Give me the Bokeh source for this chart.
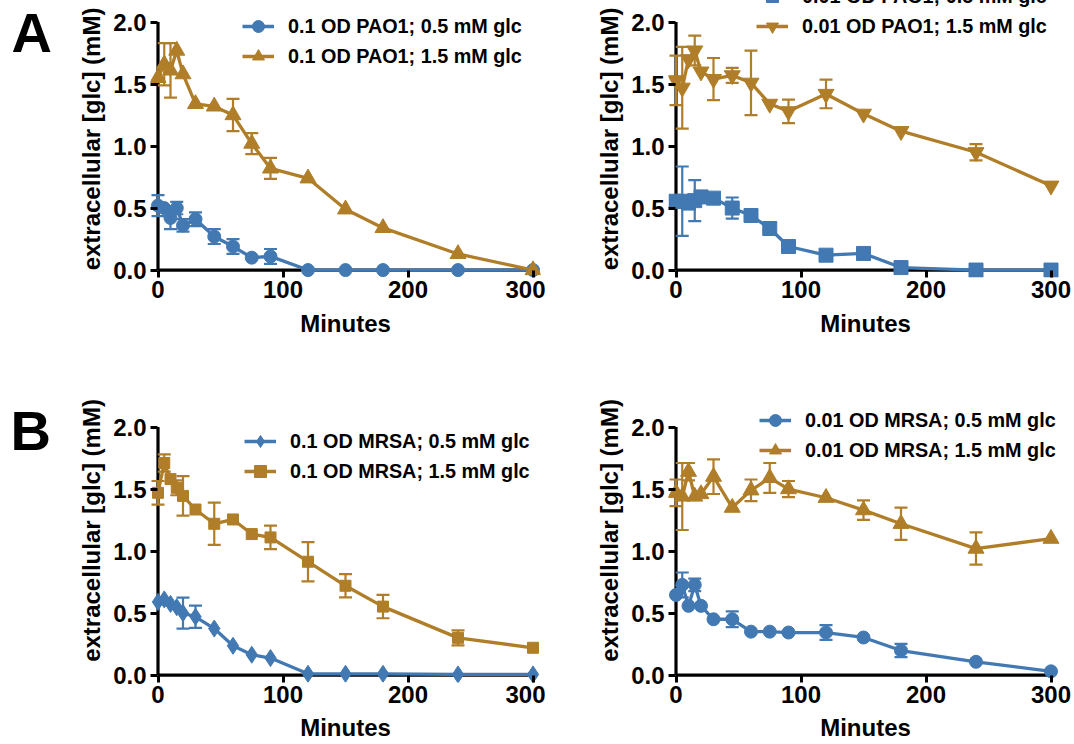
import numpy as np
from bokeh.plotting import figure
from bokeh.models import Range1d, FixedTicker, PrintfTickFormatter, Legend, LegendItem, Label
from bokeh.layouts import column, row
from bokeh.embed import file_html
from bokeh.resources import INLINE

FONT = "Liberation Sans"
BLUE = "#4279B2"
GOLD = "#B07E28"

minutes = [0, 5, 10, 15, 20, 30, 45, 60, 75, 90, 120, 150, 180, 240, 300]
x_ticks = [0, 100, 200, 300]
y_ticks = [0.0, 0.5, 1.0, 1.5, 2.0]
x_title = "Minutes"
y_title = "extracellular [glc] (mM)"
panel_letters = ["A", "B"]

# Panel A, left: 0.1 OD PAO1
pao1_01_low = [0.52, 0.50, 0.42, 0.50, 0.36, 0.41, 0.27, 0.19, 0.10, 0.11, 0.0, 0.0, 0.0, 0.0, 0.0]
pao1_01_low_err = [0.085, 0.0, 0.09, 0.05, 0.05, 0.055, 0.06, 0.06, 0.0, 0.06, 0, 0, 0, 0, 0]
pao1_01_high = [1.55, 1.66, 1.61, 1.77, 1.58, 1.34, 1.32, 1.25, 1.02, 0.82, 0.74, 0.49, 0.34, 0.13, 0.0]
pao1_01_high_err = [0.0, 0.17, 0.22, 0.0, 0.0, 0.0, 0.0, 0.13, 0.085, 0.085, 0, 0, 0, 0, 0]

# Panel A, right: 0.01 OD PAO1
pao1_001_low = [0.555, 0.555, 0.54, 0.56, 0.59, 0.58, 0.50, 0.44, 0.335, 0.19, 0.12, 0.134, 0.02, 0.0, 0.0]
pao1_001_low_err = [0.0, 0.28, 0.0, 0.165, 0.0, 0.0, 0.085, 0.04, 0.05, 0.0, 0, 0, 0, 0, 0]
pao1_001_high = [1.53, 1.47, 1.70, 1.77, 1.60, 1.54, 1.57, 1.51, 1.34, 1.28, 1.42, 1.26, 1.12, 0.95, 0.68]
pao1_001_high_err = [0.2, 0.33, 0.0, 0.12, 0.0, 0.17, 0.06, 0.26, 0.0, 0.095, 0.115, 0, 0, 0.065, 0]

# Panel B, left: 0.1 OD MRSA
mrsa_01_low = [0.59, 0.61, 0.574, 0.547, 0.50, 0.47, 0.375, 0.236, 0.164, 0.137, 0.01, 0.01, 0.01, 0.005, 0.005]
mrsa_01_low_err = [0, 0, 0, 0, 0.125, 0.09, 0, 0, 0, 0, 0, 0, 0, 0, 0]
mrsa_01_high = [1.47, 1.71, 1.58, 1.51, 1.445, 1.335, 1.22, 1.255, 1.137, 1.11, 0.914, 0.72, 0.552, 0.30, 0.22]
mrsa_01_high_err = [0.095, 0.07, 0, 0.06, 0.16, 0, 0.17, 0, 0, 0.095, 0.158, 0.094, 0.094, 0.06, 0]

# Panel B, right: 0.01 OD MRSA
mrsa_001_low = [0.646, 0.727, 0.558, 0.727, 0.558, 0.45, 0.45, 0.35, 0.35, 0.343, 0.343, 0.303, 0.198, 0.107, 0.03]
mrsa_001_low_err = [0, 0.1, 0, 0.05, 0, 0, 0.064, 0, 0, 0, 0.06, 0, 0.054, 0, 0]
mrsa_001_high = [1.47, 1.44, 1.64, 1.44, 1.46, 1.60, 1.35, 1.49, 1.59, 1.50, 1.43, 1.33, 1.22, 1.02, 1.10]
mrsa_001_high_err = [0.107, 0.27, 0.07, 0, 0, 0.14, 0, 0.087, 0.12, 0.065, 0, 0.078, 0.13, 0.13, 0]

PX_PER_UNIT_X = 1.25
PX_PER_UNIT_Y = 124.0
X_START = -6
Y_START = -0.06


def make_panel(width, height, mb, series, legend_xy, label_standoff):
    left, right, top, bottom = mb
    frame_h = height - top - bottom
    frame_w = width - left - right
    p = figure(width=width, height=height, output_backend="svg", toolbar_location=None,
               x_range=Range1d(X_START, X_START + frame_w / PX_PER_UNIT_X),
               y_range=Range1d(Y_START, Y_START + frame_h / PX_PER_UNIT_Y),
               min_border_left=left, min_border_right=right,
               min_border_top=top, min_border_bottom=bottom)
    p.outline_line_color = None
    p.xgrid.grid_line_color = None
    p.ygrid.grid_line_color = None
    p.background_fill_color = "white"
    p.border_fill_color = "white"

    for ax in (p.xaxis[0], p.yaxis[0]):
        ax.axis_line_color = None
        ax.major_tick_in = 7
        ax.major_tick_out = 0
        ax.major_tick_line_width = 3
        ax.major_tick_line_color = "black"
        ax.minor_tick_line_color = None
        ax.major_label_text_font = FONT
        ax.major_label_text_font_style = "bold"
        ax.major_label_text_font_size = "24px"
        ax.major_label_text_color = "black"
        ax.axis_label_text_font = FONT
        ax.axis_label_text_font_style = "bold"
        ax.axis_label_text_font_size = "24px"
        ax.axis_label_text_color = "black"
    p.xaxis.ticker = FixedTicker(ticks=x_ticks)
    p.yaxis.ticker = FixedTicker(ticks=y_ticks)
    p.yaxis.formatter = PrintfTickFormatter(format="%.1f")
    p.xaxis.axis_label = x_title
    p.yaxis.axis_label = y_title
    p.xaxis.major_label_standoff = 3
    p.yaxis.major_label_standoff = 4
    p.xaxis.axis_label_standoff = label_standoff
    p.yaxis.axis_label_standoff = 5

    # axis lines through the data origin
    p.segment(x0=[x_ticks[0], x_ticks[0]], y0=[y_ticks[0], y_ticks[0]],
              x1=[x_ticks[-1], x_ticks[0]], y1=[y_ticks[0], y_ticks[-1]],
              line_color="black", line_width=3.2)

    items = []
    for s in series:
        t = np.array(minutes, dtype=float)
        y = np.array(s["y"], dtype=float)
        e = np.array(s["err"], dtype=float)
        m = e > 0
        if m.any():
            p.segment(x0=t[m], y0=y[m] - e[m], x1=t[m], y1=y[m] + e[m],
                      line_color=s["color"], line_width=2.2)
            p.scatter(x=np.concatenate([t[m], t[m]]),
                      y=np.concatenate([y[m] - e[m], y[m] + e[m]]),
                      marker="dash", size=13, line_color=s["color"], line_width=2.2)
    for s in series:
        rl = p.line(minutes, s["y"], line_color=s["color"], line_width=3.3)
        rm = p.scatter(minutes, s["y"], marker=s["marker"], size=s["size"],
                       fill_color=s["color"], line_color=s["color"], line_width=1)
        items.append(LegendItem(label=s["label"], renderers=[rl, rm]))

    legend = Legend(items=items, location=legend_xy, orientation="vertical",
                    glyph_width=32, glyph_height=30, spacing=-1, label_standoff=14,
                    padding=0, margin=0, border_line_color=None, background_fill_alpha=0,
                    label_text_font=FONT, label_text_font_style="bold",
                    label_text_font_size="19.8px", label_text_color="black")
    p.add_layout(legend)
    return p


def make_letter(height, text, lx, ly):
    f = figure(width=62, height=height, output_backend="svg", toolbar_location=None,
               x_axis_location=None, y_axis_location=None,
               min_border_left=0, min_border_right=0, min_border_top=0, min_border_bottom=0)
    f.outline_line_color = None
    f.xgrid.grid_line_color = None
    f.ygrid.grid_line_color = None
    f.add_layout(Label(x=lx, y=ly, x_units="screen", y_units="screen", text=text,
                       text_font=FONT, text_font_style="bold", text_font_size="56px",
                       text_color="black", text_align="left", text_baseline="alphabetic"))
    return f


TOP_H, BOT_H = 378, 366

fA = make_letter(TOP_H, panel_letters[0], 11, TOP_H - 52 + 20)
fB = make_letter(BOT_H, panel_letters[1], 10, BOT_H - 72 + 20)

pA1 = make_panel(483, TOP_H, (88, 5, 0, 101), [
    dict(label="0.1 OD PAO1; 0.5 mM glc", y=pao1_01_low, err=pao1_01_low_err, color=BLUE, marker="circle", size=13),
    dict(label="0.1 OD PAO1; 1.5 mM glc", y=pao1_01_high, err=pao1_01_high_err, color=GOLD, marker="triangle", size=16),
], (92, 206), 9)

pA2 = make_panel(529, TOP_H, (123, 12, 0, 101), [
    dict(label="0.01 OD PAO1; 0.5 mM glc", y=pao1_001_low, err=pao1_001_low_err, color=BLUE, marker="square", size=14),
    dict(label="0.01 OD PAO1; 1.5 mM glc", y=pao1_001_high, err=pao1_001_high_err, color=GOLD, marker="inverted_triangle", size=16),
], (88, 236), 9)

pB1 = make_panel(483, BOT_H, (88, 5, 0, 62), [
    dict(label="0.1 OD MRSA; 0.5 mM glc", y=mrsa_01_low, err=mrsa_01_low_err, color=BLUE, marker="diamond", size=17),
    dict(label="0.1 OD MRSA; 1.5 mM glc", y=mrsa_01_high, err=mrsa_01_high_err, color=GOLD, marker="square", size=11),
], (94, 196), 8)

pB2 = make_panel(529, BOT_H, (123, 12, 0, 62), [
    dict(label="0.01 OD MRSA; 0.5 mM glc", y=mrsa_001_low, err=mrsa_001_low_err, color=BLUE, marker="circle", size=13),
    dict(label="0.01 OD MRSA; 1.5 mM glc", y=mrsa_001_high, err=mrsa_001_high_err, color=GOLD, marker="triangle", size=16),
], (91, 217), 8)

layout = row(column(fA, fB), column(row(pA1, pA2), row(pB1, pB2)))
open("out.html", "w").write(file_html(layout, INLINE))
